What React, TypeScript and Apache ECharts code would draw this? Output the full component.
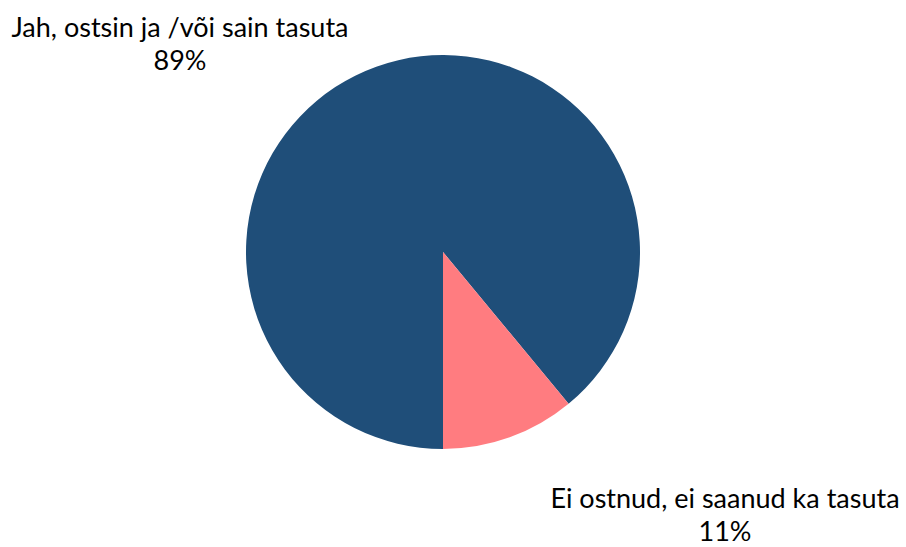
import React, { useEffect, useRef } from "react";
import * as echarts from "echarts";

const categories = ["Jah, ostsin ja /või sain tasuta", "Ei ostnud, ei saanud ka tasuta"];
const values = [89, 11];
const colors = ["#1F4E79", "#FF7C80"];
const labelAnchors = [
  [180, 43],
  [725, 514],
];

export default function App() {
  const ref = useRef<HTMLDivElement>(null);
  useEffect(() => {
    document.body.style.margin = "0";
    const chart = echarts.init(ref.current!, undefined, { renderer: "svg" });
    chart.setOption({
      animation: false,
      backgroundColor: "#ffffff",
      series: [
        {
          type: "pie",
          center: [443, 252],
          radius: [0, 197],
          startAngle: 270,
          clockwise: true,
          data: categories.map((c, i) => ({
            name: c,
            value: values[i],
            itemStyle: { color: colors[i] },
          })),
          label: {
            show: true,
            position: "outside",
            formatter: (p: any) => `${p.name}\n${p.value}%`,
            fontFamily: "Lato",
            fontSize: 27,
            lineHeight: 33,
            color: "#000",
            align: "center",
            overflow: "none",
            width: 400,
          },
          labelLine: { show: false },
          labelLayout: (params: any) => {
            const a = labelAnchors[params.dataIndex];
            return { x: a[0], y: a[1], align: "center", verticalAlign: "middle" };
          },
          emphasis: { disabled: true },
        },
      ],
    });
    return () => chart.dispose();
  }, []);
  return <div ref={ref} style={{ width: 906, height: 547 }} />;
}
